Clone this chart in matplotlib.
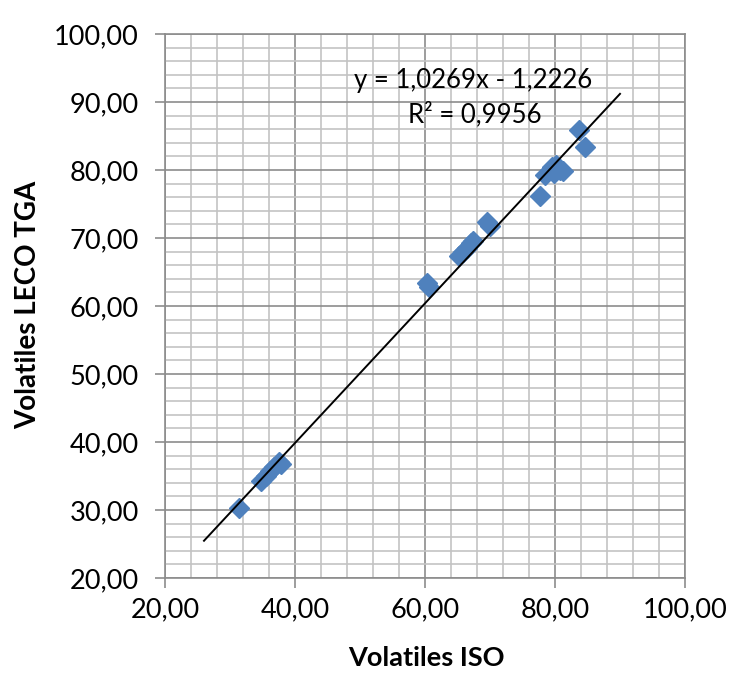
import matplotlib
matplotlib.use("Agg")
import matplotlib.pyplot as plt
from matplotlib.ticker import MultipleLocator, FuncFormatter
import numpy as np

# Data
iso = [31.4,
       34.8, 35.5, 36.2, 36.8, 37.5, 37.8,
       60.3, 60.6,
       65.2, 65.8, 66.4, 67.0, 67.4,
       69.5, 70.0,
       77.7, 78.5, 79.5, 80.2, 80.8, 81.2, 79.8,
       83.7, 84.6]
leco = [30.3,
        34.3, 35.0, 35.7, 36.3, 37.0, 36.8,
        63.4, 62.8,
        67.4, 68.0, 68.6, 69.2, 69.6,
        72.3, 71.8,
        76.2, 79.3, 80.5, 80.8, 80.0, 79.8, 79.6,
        85.9, 83.4]
slope = 1.0269
intercept = -1.2226
r2 = 0.9956
trend_x = [26.0, 90.0]
x_ticks = [20, 40, 60, 80, 100]
y_ticks = [20, 30, 40, 50, 60, 70, 80, 90, 100]

plt.rcParams['font.family'] = ['Lato', 'DejaVu Sans']

fig = plt.figure(figsize=(7.43, 6.74), dpi=100)
ax = fig.add_axes([165/743, 1-578/674, (685-165)/743, (578-34)/674])

ax.set_xlim(20, 100)
ax.set_ylim(20, 100)
ax.set_xticks(x_ticks)
ax.set_yticks(y_ticks)
ax.xaxis.set_minor_locator(MultipleLocator(4))
ax.yaxis.set_minor_locator(MultipleLocator(2))
fmt = FuncFormatter(lambda v, p: f"{v:.2f}".replace('.', ','))
ax.xaxis.set_major_formatter(fmt)
ax.yaxis.set_major_formatter(fmt)

ax.grid(which='minor', color='#c3c3c3', linewidth=1.2, zorder=0)
ax.grid(which='major', color='#8c8c8c', linewidth=1.2, zorder=0)
ax.set_axisbelow(True)

for s in ax.spines.values():
    s.set_color('#8c8c8c')
    s.set_linewidth(1.2)

ax.tick_params(which='major', direction='out', length=7, width=1.2,
               color='#8c8c8c', labelsize=19.5, labelcolor='black')
ax.tick_params(axis='y', which='major', pad=12)
ax.tick_params(axis='x', which='major', pad=7)
ax.tick_params(which='minor', length=0)

ax.plot(iso, leco, linestyle='none', marker='D', markersize=10.5,
        color='#4f81bd', markeredgecolor='#4f81bd', zorder=3)

tx = np.array(trend_x)
ax.plot(tx, slope*tx + intercept, color='black', linewidth=1.4, zorder=4)

ax.text(67.4, 93.2, "y = 1,0269x - 1,2226", ha='center', va='center', fontsize=18.5, zorder=5)
ax.text(67.7, 88.1, "R² = 0,9956", ha='center', va='center', fontsize=18.5, zorder=5)

ax.set_xlabel("Volatiles ISO", fontsize=19.5, fontweight='bold')
ax.set_ylabel("Volatiles LECO TGA", fontsize=20, fontweight='bold')
ax.xaxis.set_label_coords((426-165)/520, (578-658)/544)
ax.yaxis.set_label_coords((28-165)/520, (578-305)/544)
ax.xaxis.label.set_va('center')
ax.yaxis.label.set_va('center')

fig.savefig("out.png", dpi=100)
